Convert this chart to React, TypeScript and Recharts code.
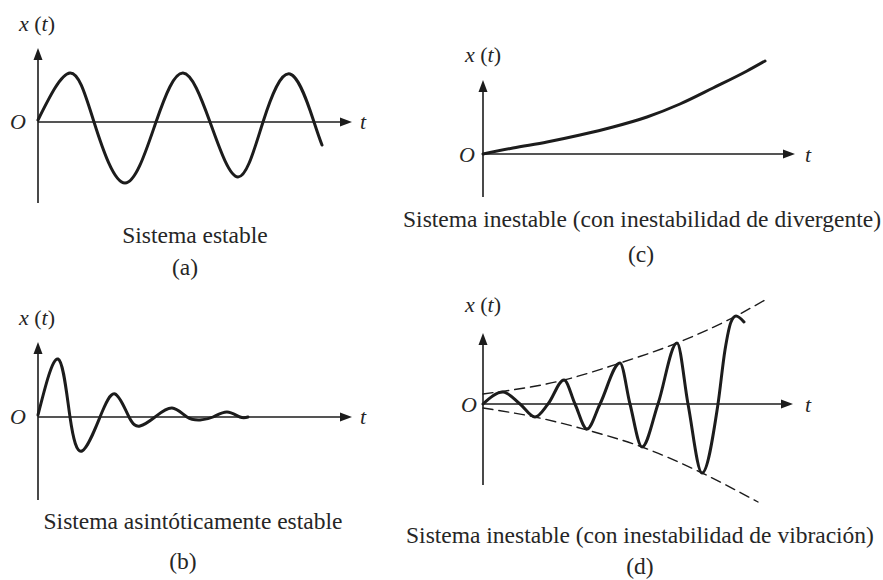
import { LineChart, Line, XAxis, YAxis, ReferenceLine } from "recharts";

// (a) stable: sustained oscillation
const A_T = [0, 3.2, 5.6, 8.7, 11.8, 14.5, 17.2, 20.0, 22.5, 25.2, 27.6, 28.4];
const A_X = [0.2, 4.9, 0, -6.1, 0, 4.9, 0, -5.5, 0, 4.8, 0, -2.3];

// (b) asymptotically stable: decaying oscillation
const B_T = [0, 2.0, 3.2, 4.4, 6.2, 7.7, 9.1, 10.2, 11.7, 13.4, 14.9, 16.2, 17.5, 18.9, 20.2, 21.0];
const B_X = [0.2, 5.8, 0, -3.4, 0, 2.3, 0, -0.9, 0, 0.9, 0, -0.3, 0, 0.5, 0, 0];

// (c) divergent
const C_T = [0, 3.0, 6.4, 9.7, 13.0, 16.4, 19.7, 23.0, 26.4, 28.2];
const C_X = [0, 0.6, 1.2, 1.9, 2.7, 3.7, 5.0, 6.6, 8.3, 9.3];

// (d) growing vibration + dashed envelopes
const D_T = [0, 2.0, 3.7, 5.2, 6.5, 8.1, 9.2, 10.4, 11.7, 13.7, 14.7, 15.9, 17.5, 19.4, 20.5, 21.9, 23.5, 24.2, 24.8, 25.3, 26.1];
const D_X = [0, 1.2, 0, -1.3, 0, 2.4, 0, -2.5, 0, 4.1, 0, -4.3, 0, 6.1, 0, -6.9, 0, 5.4, 8.2, 8.8, 8.2];
const UP_T = [0, 8.1, 13.7, 19.4, 25.3, 28.2];
const UP_X = [1.0, 2.4, 4.1, 6.1, 8.8, 10.4];
const LO_T = [0, 5.2, 10.4, 15.9, 21.9, 27.5];
const LO_X = [-0.4, -1.3, -2.6, -4.3, -6.9, -9.8];

const CAPTIONS = [
  "Sistema estable",
  "Sistema asintóticamente estable",
  "Sistema inestable (con inestabilidad de divergente)",
  "Sistema inestable (con inestabilidad de vibración)",
];
const LETTERS = ["(a)", "(b)", "(c)", "(d)"];

const INK = "#1c1c1c";
const FONT = "'Liberation Serif', 'Times New Roman', serif";

const zip = (ts: number[], xs: number[]) => ts.map((t, i) => ({ t, x: xs[i] }));

// axis line with a filled arrow head at its end
function ArrowLine(p: any) {
  const { x1, y1, x2, y2 } = p;
  const dx = x2 - x1;
  const dy = y2 - y1;
  const len = Math.hypot(dx, dy) || 1;
  const ux = dx / len;
  const uy = dy / len;
  const L = 12;
  const W = 4.5;
  const bx = x2 - ux * L;
  const by = y2 - uy * L;
  const pts = `${x2},${y2} ${bx - uy * W},${by + ux * W} ${bx + uy * W},${by - ux * W}`;
  return (
    <g>
      <line x1={x1} y1={y1} x2={bx + ux * 2} y2={by + uy * 2} stroke={INK} strokeWidth={1.6} />
      <polygon points={pts} fill={INK} />
    </g>
  );
}

interface Series {
  data: { t: number; x: number }[];
  type: "natural" | "monotone";
  dashed?: boolean;
}

interface PanelProps {
  left: number;
  top: number;
  width: number;
  height: number;
  tDomain: [number, number];
  xDomain: [number, number];
  yAxis: [number, number];
  tEnd: number;
  series: Series[];
}

function Panel({ left, top, width, height, tDomain, xDomain, yAxis, tEnd, series }: PanelProps) {
  return (
    <div style={{ position: "absolute", left, top }}>
      <LineChart width={width} height={height} margin={{ top: 0, right: 0, bottom: 0, left: 0 }}>
        <XAxis type="number" dataKey="t" domain={tDomain} allowDataOverflow hide />
        <YAxis type="number" dataKey="x" domain={xDomain} allowDataOverflow hide />
        <ReferenceLine
          ifOverflow="visible"
          segment={[{ x: 0, y: yAxis[0] }, { x: 0, y: yAxis[1] }]}
          shape={ArrowLine}
        />
        <ReferenceLine
          ifOverflow="visible"
          segment={[{ x: 0, y: 0 }, { x: tEnd, y: 0 }]}
          shape={ArrowLine}
        />
        {series.map((s, i) => (
          <Line
            key={i}
            data={s.data}
            dataKey="x"
            type={s.type}
            stroke={INK}
            strokeWidth={s.dashed ? 1.4 : 3}
            strokeDasharray={s.dashed ? "10 6" : undefined}
            strokeLinecap="round"
            dot={false}
            activeDot={false}
            isAnimationActive={false}
          />
        ))}
      </LineChart>
    </div>
  );
}

function Txt({ x, y, size = 23.5, children }: { x: number; y: number; size?: number; children: any }) {
  return (
    <div
      style={{
        position: "absolute",
        left: x,
        top: y,
        transform: "translate(-50%, -50%)",
        fontFamily: FONT,
        fontSize: size,
        lineHeight: 1,
        whiteSpace: "nowrap",
        color: "#262626",
      }}
    >
      {children}
    </div>
  );
}

function XtLabel({ x, y }: { x: number; y: number }) {
  return (
    <Txt x={x} y={y} size={22}>
      <i>x</i> (<i>t</i>)
    </Txt>
  );
}

export default function App() {
  return (
    <div style={{ position: "absolute", left: 0, top: 0, width: 883, height: 580, background: "#fff", overflow: "hidden" }}>
      <Panel
        left={30} top={40} width={340} height={175}
        tDomain={[-0.8, 33.2]} xDomain={[-9.3, 8.2]}
        yAxis={[-8.1, 7.4]} tEnd={31.4}
        series={[{ data: zip(A_T, A_X), type: "natural" }]}
      />
      <Panel
        left={30} top={330} width={340} height={180}
        tDomain={[-0.8, 33.2]} xDomain={[-9.3, 8.7]}
        yAxis={[-8.3, 7.5]} tEnd={31.4}
        series={[{ data: zip(B_T, B_X), type: "natural" }]}
      />
      <Panel
        left={470} top={50} width={340} height={160}
        tDomain={[-1.3, 32.7]} xDomain={[-5.6, 10.4]}
        yAxis={[-4.3, 7.4]} tEnd={31.2}
        series={[{ data: zip(C_T, C_X), type: "monotone" }]}
      />
      <Panel
        left={470} top={290} width={340} height={220}
        tDomain={[-1.3, 32.7]} xDomain={[-10.6, 11.4]}
        yAxis={[-8.1, 7.1]} tEnd={31.0}
        series={[
          { data: zip(UP_T, UP_X), type: "monotone", dashed: true },
          { data: zip(LO_T, LO_X), type: "monotone", dashed: true },
          { data: zip(D_T, D_X), type: "monotone" },
        ]}
      />

      <XtLabel x={37} y={24} />
      <XtLabel x={37} y={318} />
      <XtLabel x={483} y={55} />
      <XtLabel x={483} y={305} />

      <Txt x={18} y={122} size={22}><i>O</i></Txt>
      <Txt x={18} y={417} size={22}><i>O</i></Txt>
      <Txt x={467} y={155} size={22}><i>O</i></Txt>
      <Txt x={469} y={405} size={22}><i>O</i></Txt>

      <Txt x={363} y={122} size={22}><i>t</i></Txt>
      <Txt x={363} y={417} size={22}><i>t</i></Txt>
      <Txt x={808} y={155} size={22}><i>t</i></Txt>
      <Txt x={808} y={405} size={22}><i>t</i></Txt>

      <Txt x={195} y={236}>{CAPTIONS[0]}</Txt>
      <Txt x={185} y={268}>{LETTERS[0]}</Txt>
      <Txt x={193} y={522}>{CAPTIONS[1]}</Txt>
      <Txt x={183} y={562}>{LETTERS[1]}</Txt>
      <Txt x={642} y={220}>{CAPTIONS[2]}</Txt>
      <Txt x={641} y={255}>{LETTERS[2]}</Txt>
      <Txt x={640} y={536}>{CAPTIONS[3]}</Txt>
      <Txt x={640} y={567}>{LETTERS[3]}</Txt>
    </div>
  );
}
